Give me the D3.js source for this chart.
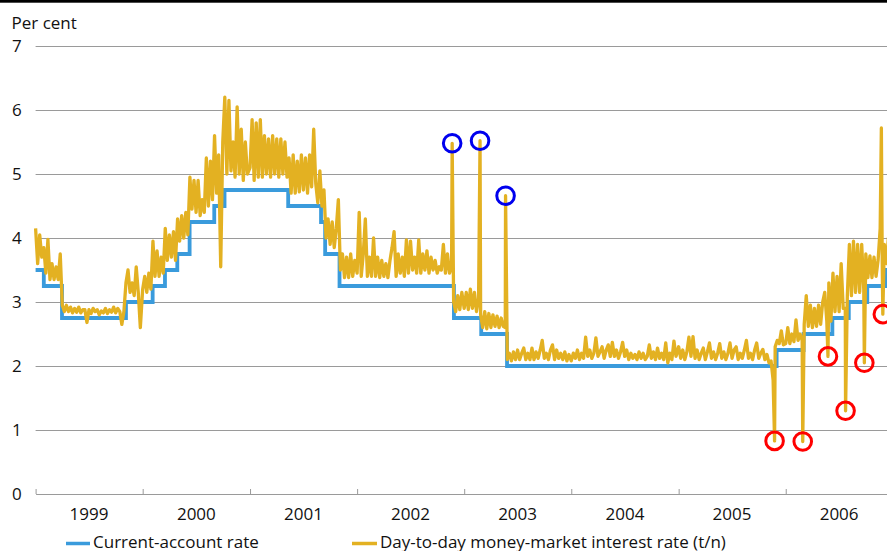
<!DOCTYPE html>
<html><head><meta charset="utf-8">
<script src="https://cdn.jsdelivr.net/npm/d3@7"></script>
<style>
html,body{margin:0;padding:0;background:#fff;}
svg{display:block;font-family:"Open Sans",sans-serif;}
</style></head><body>
<svg id="chart" width="887" height="551"></svg>
<script>
// ---------- data ----------
const yearLabels = ["1999","2000","2001","2002","2003","2004","2005","2006"];
const yTicks = [0,1,2,3,4,5,6,7];

// Current-account rate (step changes)
const caDates = ["1999-01-01","1999-01-29","1999-04-01","1999-11-05","2000-02-04","2000-03-17","2000-04-28","2000-06-09","2000-09-01","2000-10-06","2001-05-11","2001-08-31","2001-09-14","2001-11-02","2002-11-27","2003-02-28","2003-05-27","2005-12-01","2006-03-03","2006-06-09","2006-08-04","2006-10-06","2006-12-06","2007-01-31"];
const caValues = [3.5,3.25,2.75,3.0,3.25,3.5,3.75,4.25,4.5,4.75,4.5,4.25,3.75,3.25,2.75,2.5,2.0,2.25,2.5,2.75,3.0,3.25,3.5,3.5];

// Day-to-day (t/n) rate, weekly readings from 1 January of each year
const tn1999 = [4.15,3.6,4.05,3.7,3.85,3.45,3.98,3.35,3.6,3.35,3.55,3.35,3.75,2.95,2.85,2.95,2.85,2.92,2.83,2.9,2.84,2.92,2.83,2.88,2.88,2.68,2.88,2.82,2.9,2.85,2.88,2.8,2.86,2.83,2.9,2.82,2.88,2.84,2.92,2.83,2.9,2.85,2.65,2.85,3.3,3.5,3.15,3.3,3.1,3.55,3.15,2.6];
const tn2000 = [3.2,3.4,3.15,3.45,3.2,3.95,3.4,3.8,3.4,3.7,3.45,4.15,3.65,4.05,3.7,4.1,3.65,4.3,3.95,4.35,4.0,4.4,4.05,4.95,4.45,4.9,4.4,4.9,4.35,4.6,4.4,5.25,4.5,5.2,4.6,5.6,4.7,5.3,3.55,5.5,6.2,5.0,6.15,5.05,5.5,4.95,6.05,5.0,5.7,4.9,5.5,5.0];
const tn2001 = [5.1,5.85,4.9,5.8,4.95,5.85,4.95,5.6,5.0,5.55,4.95,5.6,5.0,5.55,4.95,5.55,5.0,5.5,4.95,5.25,4.7,5.3,4.7,5.2,4.72,5.3,4.75,5.25,4.7,5.3,4.8,5.7,4.85,4.55,5.05,4.5,4.75,4.0,4.3,3.9,4.25,3.85,4.15,4.6,3.5,3.75,3.38,3.7,3.38,3.75,3.4,3.65];
const tn2002 = [3.45,4.4,3.4,3.75,4.3,3.4,3.7,3.4,4.0,3.4,3.7,3.38,3.65,3.4,3.6,3.38,3.65,3.85,4.1,3.4,3.75,3.45,3.7,3.4,3.97,3.45,3.95,3.5,3.7,3.45,3.97,3.45,3.75,3.5,3.8,3.45,3.7,3.5,3.65,3.45,3.55,3.5,3.9,3.45,3.75,3.45,3.55,3.0,2.85,3.1,2.88,3.15];
const tn2003 = [2.9,3.15,2.88,3.2,2.9,3.15,2.85,3.05,2.8,2.6,2.85,2.58,2.82,2.6,2.8,2.62,2.78,2.6,2.75,2.62,2.6,2.1,2.2,2.08,2.22,2.1,2.25,2.1,2.2,2.28,2.1,2.2,2.1,2.28,2.1,2.22,2.12,2.25,2.4,2.12,2.2,2.1,2.25,2.33,2.1,2.25,2.12,2.2,2.1,2.22,2.08,2.18];
const tn2004 = [2.08,2.2,2.12,2.25,2.1,2.2,2.12,2.45,2.15,2.25,2.12,2.2,2.44,2.15,2.22,2.3,2.12,2.25,2.33,2.15,2.37,2.15,2.25,2.12,2.22,2.37,2.15,2.25,2.1,2.2,2.12,2.18,2.1,2.22,2.12,2.2,2.1,2.15,2.33,2.12,2.22,2.1,2.28,2.12,2.2,2.1,2.36,2.05,2.2,2.1,2.39,2.15];
const tn2005 = [2.3,2.12,2.25,2.1,2.22,2.45,2.15,2.46,2.12,2.25,2.1,2.2,2.28,2.1,2.22,2.36,2.12,2.22,2.1,2.2,2.35,2.12,2.22,2.1,2.2,2.36,2.12,2.25,2.3,2.1,2.2,2.12,2.25,2.4,2.12,2.2,2.1,2.25,2.36,2.12,2.2,2.26,2.1,2.18,2.05,2.08,1.78,2.3,2.4,2.35,2.55,2.33];
const tn2006 = [2.35,2.6,2.35,2.5,2.38,2.72,2.4,2.5,2.4,2.65,3.1,2.62,2.95,2.6,2.9,2.62,2.95,2.65,3.0,3.15,2.7,3.3,2.7,3.45,2.85,3.4,2.85,3.6,2.9,2.9,3.1,3.9,3.1,3.95,3.15,3.9,3.15,3.9,3.2,3.75,3.38,3.72,3.38,3.7,3.4,3.66,4.15,3.6,3.9,3.6,4.0,3.7];
const tnYears = [1999,2000,2001,2002,2003,2004,2005,2006];

// Single-day spikes (circled ones are marked in the chart)
const highSpikeDates = ["2002-11-21","2003-02-24","2003-05-22"];
const highSpikeValues = [5.48,5.52,4.66];
const lowSpikeDates = ["2005-11-24","2006-02-28","2006-05-25","2006-07-24","2006-09-26","2006-11-28"];
const lowSpikeValues = [0.83,0.82,2.15,1.3,2.05,2.81];
const otherSpikeDates = ["2006-11-23"];
const otherSpikeValues = [5.72];

const legendLabels = ["Current-account rate","Day-to-day money-market interest rate (t/n)"];
const colBlue = "#3a9bdc", colGold = "#e3b122";

// ---------- build ----------
const parse = d3.utcParse("%Y-%m-%d");
const ca = caDates.map((d,i)=>({date:parse(d), value:caValues[i]}));
const tnWeekly = [tn1999,tn2000,tn2001,tn2002,tn2003,tn2004,tn2005,tn2006];
let tn = [];
tnYears.forEach((yr,k)=>tnWeekly[k].forEach((v,i)=>tn.push({date:new Date(Date.UTC(yr,0,1+7*i)), value:v})));
const highs = highSpikeDates.map((d,i)=>({date:parse(d), value:highSpikeValues[i]}));
const lows = lowSpikeDates.map((d,i)=>({date:parse(d), value:lowSpikeValues[i]}));
const others = otherSpikeDates.map((d,i)=>({date:parse(d), value:otherSpikeValues[i]}));
tn = tn.concat(highs, lows, others).sort((a,b)=>a.date-b.date);

const svg = d3.select("#chart");
const W = 887;
const x0 = 35.6, yearPx = 107.15;
const x = d3.scaleUtc().domain([Date.UTC(1999,0,1), Date.UTC(2007,0,1)]).range([x0, x0 + 8*yearPx]);
const y = d3.scaleLinear().domain([0,7]).range([494,46]);

// top rule
svg.append("rect").attr("x",0).attr("y",0).attr("width",W).attr("height",2.7).attr("fill","#000");

// gridlines
svg.append("g").selectAll("line").data(yTicks.filter(d=>d>0)).join("line")
  .attr("x1",x0).attr("x2",W)
  .attr("y1",d=>Math.round(y(d))+0.5).attr("y2",d=>Math.round(y(d))+0.5)
  .attr("stroke","#9a9a9a").attr("stroke-width",1);

// x axis with inward ticks
const xa = svg.append("g").attr("transform",`translate(0,${y(0)})`)
  .call(d3.axisBottom(x).ticks(d3.utcYear.every(1)).tickSize(-5).tickSizeOuter(0).tickFormat(""));
xa.selectAll("path,line").attr("stroke","#9a9a9a");

// year labels
svg.append("g").selectAll("text").data(yearLabels).join("text")
  .attr("x",d=>x(new Date(Date.UTC(+d,6,2))))
  .attr("y",520).attr("text-anchor","middle")
  .attr("font-size",17).attr("fill","#111").text(d=>d);

// y labels
svg.append("g").selectAll("text").data(yTicks).join("text")
  .attr("x",12).attr("y",d=>y(d)+6)
  .attr("font-size",17).attr("fill","#111").text(d=>d);

svg.append("text").attr("x",11.5).attr("y",29).attr("font-size",17).attr("fill","#111").text("Per cent");

// lines
const lineCA = d3.line().x(d=>x(d.date)).y(d=>y(d.value)).curve(d3.curveStepAfter);
svg.append("path").datum(ca).attr("d",lineCA).attr("fill","none")
  .attr("stroke",colBlue).attr("stroke-width",3.8);

const lineTN = d3.line().x(d=>x(d.date)).y(d=>y(d.value));
svg.append("path").datum(tn).attr("d",lineTN).attr("fill","none")
  .attr("stroke",colGold).attr("stroke-width",3.3).attr("stroke-linejoin","round");

// circles
svg.append("g").selectAll("circle").data(highs).join("circle")
  .attr("cx",d=>x(d.date)).attr("cy",d=>y(d.value)).attr("r",8.8)
  .attr("fill","none").attr("stroke","#0000ee").attr("stroke-width",3);
svg.append("g").selectAll("circle").data(lows).join("circle")
  .attr("cx",d=>x(d.date)).attr("cy",d=>y(d.value)).attr("r",8.8)
  .attr("fill","none").attr("stroke","#ff0000").attr("stroke-width",3);

// legend
const leg = [{x1:66,x2:90,tx:93,c:colBlue,t:legendLabels[0]},{x1:352,x2:377,tx:380,c:colGold,t:legendLabels[1]}];
const lg = svg.append("g");
leg.forEach(l=>{
  lg.append("line").attr("x1",l.x1).attr("x2",l.x2).attr("y1",543.5).attr("y2",543.5)
    .attr("stroke",l.c).attr("stroke-width",3.5);
  lg.append("text").attr("x",l.tx).attr("y",548).attr("font-size",17).attr("fill","#111").text(l.t);
});
</script>
</body></html>
